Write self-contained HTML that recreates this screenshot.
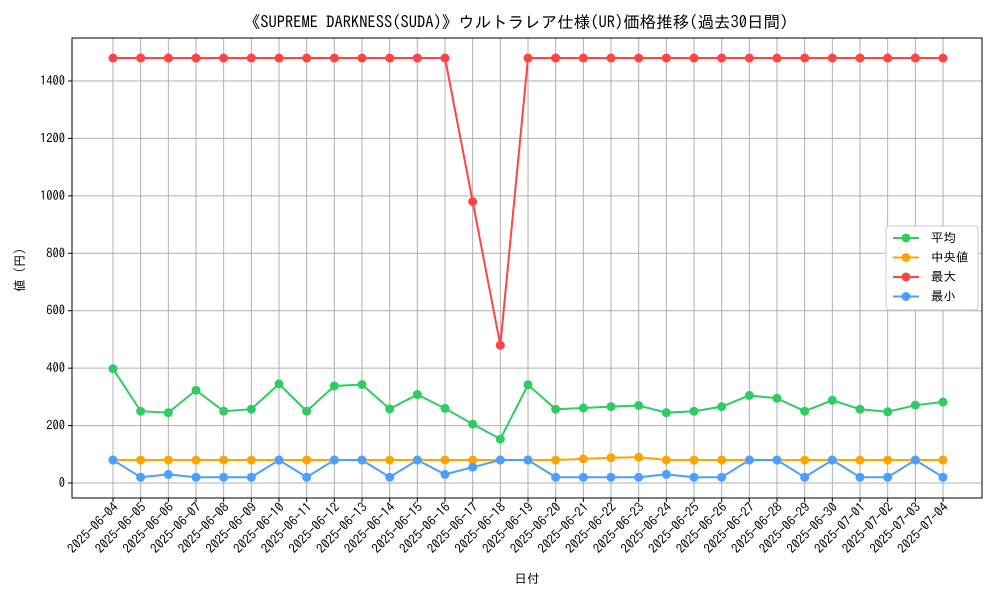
<!DOCTYPE html>
<html><head><meta charset="utf-8"><style>body{margin:0;background:#fff}svg{font-family:"IPAGothic","Noto Sans CJK JP",sans-serif}</style></head>
<body>
<svg id="c" width="1000" height="600"></svg>
<script>
const dates=["2025-06-04","2025-06-05","2025-06-06","2025-06-07","2025-06-08","2025-06-09","2025-06-10","2025-06-11","2025-06-12","2025-06-13","2025-06-14","2025-06-15","2025-06-16","2025-06-17","2025-06-18","2025-06-19","2025-06-20","2025-06-21","2025-06-22","2025-06-23","2025-06-24","2025-06-25","2025-06-26","2025-06-27","2025-06-28","2025-06-29","2025-06-30","2025-07-01","2025-07-02","2025-07-03","2025-07-04"];
const avgVals=[398,250,245,323,250,257,345,250,338,343,258,308,260,205,153,342,257,261,266,270,245,250,266,305,295,250,288,257,248,271,282];
const medVals=[80,80,80,80,80,80,80,80,80,80,80,80,80,80,80,80,80,84,88,90,80,80,80,80,80,80,80,80,80,80,80];
const maxVals=[1480,1480,1480,1480,1480,1480,1480,1480,1480,1480,1480,1480,1480,980,480,1480,1480,1480,1480,1480,1480,1480,1480,1480,1480,1480,1480,1480,1480,1480,1480];
const minVals=[80,20,30,20,20,20,80,20,80,80,20,80,30,55,80,80,20,20,20,20,30,20,20,80,80,20,80,20,20,80,20];
const yTicks=[0,200,400,600,800,1000,1200,1400];
const L=72,R=982,T=38,B=498;
const x=i=>113+i*(943-113)/(dates.length-1);
const y=v=>483-v*(483-81)/1400;
const s=document.getElementById('c');const NS='http://www.w3.org/2000/svg';
function el(t,a,p){const e=document.createElementNS(NS,t);for(const k in a)e.setAttribute(k,a[k]);(p||s).appendChild(e);return e;}
let t=el('text',{x:516,y:28,'text-anchor':'middle','font-size':16.5});t.textContent='《SUPREME DARKNESS(SUDA)》ウルトラレア仕様(UR)価格推移(過去30日間)';

yTicks.forEach(v=>{const g=el('line',{x1:L,x2:R,y1:y(v),y2:y(v),stroke:'#b0b0b0'});

el('line',{x1:L-4,x2:L,y1:y(v),y2:y(v),stroke:'#000'});
const lb=el('text',{x:L-7,y:y(v)+4,'text-anchor':'end','font-size':12.5});lb.textContent=v;
});
dates.forEach((d,i)=>{const g=el('line',{x1:x(i),x2:x(i),y1:T,y2:B,stroke:'#b0b0b0'});

el('line',{x1:x(i),x2:x(i),y1:B,y2:B+4,stroke:'#000'});
const lb=el('text',{x:x(i)+6,y:B+10,'text-anchor':'end','font-size':13,transform:`rotate(-45 ${x(i)+6} ${B+10})`});lb.textContent=d;
});
const fr=el('rect',{x:L,y:T,width:R-L,height:B-T,fill:'none',stroke:'#000'});

const series=[[avgVals,'#2ecc61','avg'],[medVals,'#ffa500','median'],[maxVals,'#ff4444','max'],[minVals,'#4d9fff','min']];
series.forEach(([vals,c,n])=>{const p=el('polyline',{points:vals.map((v,i)=>x(i)+','+y(v)).join(' '),fill:'none',stroke:c,'stroke-width':2});

vals.forEach((v,i)=>{const m=el('circle',{cx:x(i),cy:y(v),r:4.5,fill:c});
});});
let xl=el('text',{x:527,y:583,'text-anchor':'middle','font-size':12.5});xl.textContent='日付';

let yl=el('text',{x:24,y:270,'text-anchor':'middle','font-size':12.5,transform:'rotate(-90 24 270)'});yl.textContent='値 (円)';

const lg=el('g',{});
el('rect',{x:886,y:226,width:92,height:84,fill:'#fff',stroke:'#ccc',rx:3},lg);
['平均','中央値','最大','最小'].forEach((n,i)=>{const yy=238+i*19.5;const c=series[i][1];
el('line',{x1:893,x2:919,y1:yy,y2:yy,stroke:c,'stroke-width':2},lg);el('circle',{cx:906,cy:yy,r:4.5,fill:c},lg);
const tx=el('text',{x:931,y:yy+4,'font-size':12.5},lg);tx.textContent=n;
});
</script>
</body></html>
